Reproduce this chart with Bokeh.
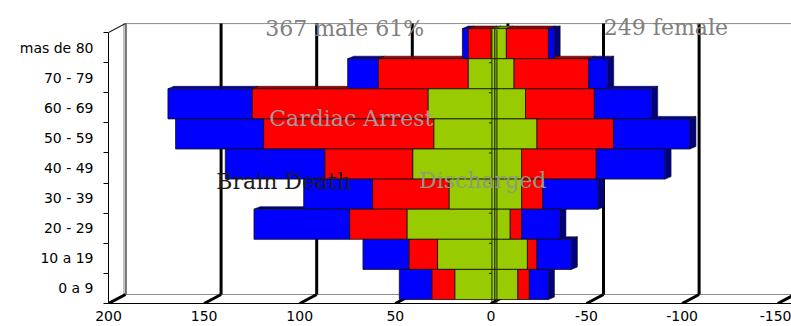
from bokeh.plotting import figure
from bokeh.models import Range1d, FixedTicker, Label, ColumnDataSource
from bokeh.embed import file_html
from bokeh.resources import INLINE

# ---------------- data ----------------
age_groups = ["mas de 80", "70 - 79", "60 - 69", "50 - 59", "40 - 49",
              "30 - 39", "20 - 29", "10 a 19", "0 a 9"]
male_discharged = [2, 14, 35, 32, 43, 24, 46, 30, 21]
male_cardiac = [12, 47, 92, 89, 46, 40, 30, 15, 12]
male_brain = [3, 16, 44, 46, 52, 36, 50, 24, 17]
female_discharged = [-6, -10, -16, -22, -14, -14, -8, -17, -12]
female_cardiac = [-22, -39, -36, -40, -39, -11, -6, -5, -6]
female_brain = [-3, -10, -30, -40, -36, -29, -20, -18, -10]
series_names = ["Discharged", "Cardiac Arrest", "Brain Death"]
x_ticks = [200, 150, 100, 50, 0, -50, -100, -150]
x_tick_labels = ["200", "150", "100", "50", "0", "-50", "-100", "-150"]
male_title = "367 male 61%"
female_title = "249 female"

# ---------------- styles / geometry ----------------
front_colors = ["#99CC00", "#FF0000", "#0000FF"]
top_colors = ["#6F9400", "#A00000", "#00009C"]
side_colors = ["#557200", "#800000", "#000080"]

X_START, X_END = 200, -157.2
Y_END = 9.9
PXX = 684 / (X_START - X_END)
PXY = 298 / Y_END
n = len(age_groups)

bar_ox, bar_oy = -4 / PXX, 4 / PXY        # bar plane shift
bdx, bdy = -6 / PXX, 2.5 / PXY            # bar depth
wdx, wdy = -17 / PXX, 9 / PXY             # wall depth

p = figure(width=791, height=326, output_backend="svg", toolbar_location=None,
           x_range=Range1d(X_START, X_END), y_range=Range1d(0, Y_END),
           min_border_left=108, min_border_right=0, min_border_top=5,
           min_border_bottom=23)
p.outline_line_color = None
p.xgrid.visible = False
p.ygrid.visible = False
p.background_fill_color = "white"
p.border_fill_color = "white"

# x axis
xa = p.xaxis[0]
xa.ticker = FixedTicker(ticks=x_ticks)
xa.major_label_overrides = {t: l for t, l in zip(x_ticks, x_tick_labels)}
xa.major_tick_out = 0
xa.major_tick_in = 0
xa.minor_tick_out = 0
xa.minor_tick_in = 0
xa.axis_line_color = "black"
xa.axis_line_width = 1
xa.major_label_text_font = "DejaVu Sans"
xa.major_label_text_font_size = "14px"
xa.major_label_text_color = "black"
xa.major_label_standoff = 7

# y axis (categories)
ya = p.yaxis[0]
centers = [n - 1 - i + 0.5 for i in range(n)]
ya.ticker = FixedTicker(ticks=centers, minor_ticks=list(range(n + 1)))
ya.major_label_overrides = {c: g for c, g in zip(centers, age_groups)}
ya.bounds = (0, n)
ya.axis_line_color = "black"
ya.axis_line_width = 1
ya.major_tick_out = 0
ya.major_tick_in = 0
ya.minor_tick_out = 5
ya.minor_tick_in = 0
ya.minor_tick_line_color = "black"
ya.minor_tick_line_width = 1
ya.major_label_text_font = "DejaVu Sans"
ya.major_label_text_font_size = "14px"
ya.major_label_text_color = "black"
ya.major_label_standoff = 10

# ---------------- walls and grid ----------------
x_lo = X_START + wdx
# back wall top and back floor edge (gray)
p.segment(x0=[x_lo, x_lo], y0=[n + wdy, wdy], x1=[X_END, X_END], y1=[n + wdy, wdy],
          line_color="#8c8c8c", line_width=1)
# left wall back edge (double line)
p.segment(x0=[x_lo + 1.5 / PXX, x_lo - 0.5 / PXX], y0=[wdy, wdy],
          x1=[x_lo + 1.5 / PXX, x_lo - 0.5 / PXX], y1=[n + wdy, n + wdy],
          line_color=["#9a9a9a", "#202020"], line_width=1.2)
# left wall top diagonal
p.segment(x0=[X_START], y0=[n], x1=[x_lo], y1=[n + wdy], line_color="#202020", line_width=1.2)
# back wall grid lines
gx = [v + wdx for v in x_ticks[1:]]
p.segment(x0=gx, y0=[wdy] * len(gx), x1=gx, y1=[n + wdy] * len(gx),
          line_color="black", line_width=3)
# floor grid diagonals
p.segment(x0=x_ticks, y0=[0] * len(x_ticks), x1=[v + wdx for v in x_ticks],
          y1=[wdy] * len(x_ticks), line_color="black", line_width=3)

# ---------------- bars ----------------
front = dict(left=[], right=[], y=[], color=[])
faces = dict(xs=[], ys=[], color=[])
sides = [[male_discharged, male_cardiac, male_brain],
         [female_discharged, female_cardiac, female_brain]]
for i in range(n):
    yb = n - 1 - i + bar_oy
    yt = yb + 1
    for si, series in enumerate(sides):
        cum = 0
        last_k = 0
        for k, vals in enumerate(series):
            a, b = cum, cum + vals[i]
            cum = b
            if vals[i] == 0:
                continue
            last_k = k
            front["left"].append(a + bar_ox)
            front["right"].append(b + bar_ox)
            front["y"].append(yb + 0.5)
            front["color"].append(front_colors[k])
            faces["xs"].append([a + bar_ox, b + bar_ox, b + bar_ox + bdx, a + bar_ox + bdx])
            faces["ys"].append([yt, yt, yt + bdy, yt + bdy])
            faces["color"].append(top_colors[k])
        if si == 1:
            xr = cum + bar_ox
            faces["xs"].append([xr, xr + bdx, xr + bdx, xr])
            faces["ys"].append([yb, yb + bdy, yt + bdy, yt])
            faces["color"].append(side_colors[last_k])

p.patches(xs="xs", ys="ys", fill_color="color", line_color="#101010", line_width=0.6,
          source=ColumnDataSource(faces))
p.hbar(y="y", left="left", right="right", height=1, fill_color="color",
       line_color="#101010", line_width=0.8, source=ColumnDataSource(front))

# category axis at zero (double line with ticks)
cx = [bar_ox + 3 / PXX, bar_ox - 2 / PXX]
p.segment(x0=cx, y0=[0, 0], x1=cx, y1=[n + 0.1, n + 0.1], line_color="#1a2a00", line_width=1)
p.segment(x0=[cx[0] + 3 / PXX] * (n - 1), y0=list(range(1, n)),
          x1=[cx[0]] * (n - 1), y1=list(range(1, n)), line_color="#1a2a00", line_width=1)

# ---------------- annotations ----------------
def px_to_x(px):
    return X_START - (px - 107) / PXX

def py_to_y(py):
    return (303 - py) / PXY

ann = [
    (male_title, 264, 28, "#7f7f7f"),
    (female_title, 603, 26.5, "#7f7f7f"),
    (series_names[1], 268, 118, "#a89898"),
    (series_names[2], 215, 180.5, "#1c1c1c"),
    (series_names[0], 418, 179.5, "#8f9a80"),
]
for txt, px, py, col in ann:
    p.add_layout(Label(x=px_to_x(px), y=py_to_y(py), text=txt, text_font="DejaVu Serif",
                       text_font_size="22px", text_color=col, text_align="left",
                       text_baseline="alphabetic"))

open("out.html", "w").write(file_html(p, INLINE))
